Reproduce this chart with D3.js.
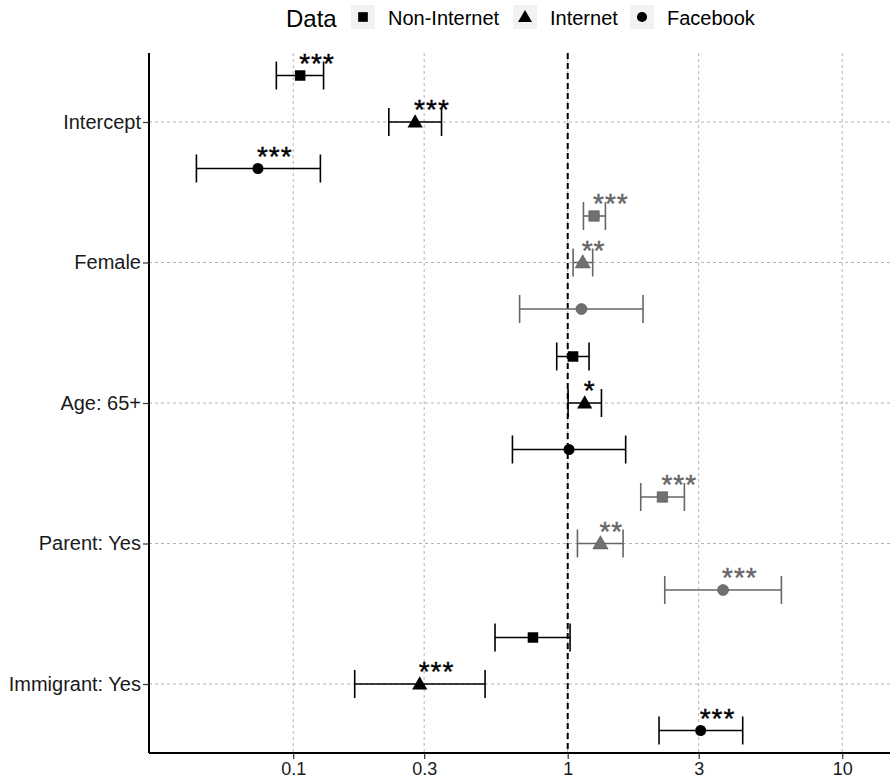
<!DOCTYPE html>
<html><head><meta charset="utf-8">
<script src="https://cdn.jsdelivr.net/npm/d3@7"></script>
<style>body{margin:0;background:#fff;} svg{display:block;font-family:Arial,"Liberation Sans",sans-serif;}</style>
</head><body>
<svg id="chart" width="890" height="781"></svg>
<script>
const categories = ["Intercept","Female","Age: 65+","Parent: Yes","Immigrant: Yes"];
const seriesNames = ["Non-Internet","Internet","Facebook"];
const greyRows = ["Female","Parent: Yes"];
// estimates [point, low, high] per category, one array per series
const nonInternetEst = [0.106, 1.247, 1.046, 2.213, 0.747];
const nonInternetLo  = [0.0868, 1.141, 0.912, 1.845, 0.5435];
const nonInternetHi  = [0.129, 1.372, 1.196, 2.661, 1.02];
const nonInternetSig = ["***","***","","***",""];
const internetEst = [0.278, 1.134, 1.153, 1.316, 0.289];
const internetLo  = [0.223, 1.046, 1.003, 1.085, 0.1675];
const internetHi  = [0.347, 1.233, 1.327, 1.591, 0.5];
const internetSig = ["***","**","*","**","***"];
const facebookEst = [0.0744, 1.122, 1.011, 3.68, 3.05];
const facebookLo  = [0.0444, 0.668, 0.629, 2.257, 2.151];
const facebookHi  = [0.1256, 1.881, 1.626, 6.004, 4.34];
const facebookSig = ["***","","","***","***"];
const xTicks = [0.1, 0.3, 1, 3, 10];
const xTickLabels = ["0.1","0.3","1","3","10"];

const seriesData = [
  {name:seriesNames[0], est:nonInternetEst, lo:nonInternetLo, hi:nonInternetHi, sig:nonInternetSig, sym:d3.symbolSquare, size:110, off:-1},
  {name:seriesNames[1], est:internetEst, lo:internetLo, hi:internetHi, sig:internetSig, sym:d3.symbolTriangle, size:100, off:0},
  {name:seriesNames[2], est:facebookEst, lo:facebookLo, hi:facebookHi, sig:facebookSig, sym:d3.symbolCircle, size:95, off:1}
];

const svg = d3.select("#chart");
const L = 149, R = 890, T = 53, B = 753;
const x = d3.scaleLog().domain([0.02983, 14.93]).range([L, R]);
const y = d3.scalePoint().domain(categories).range([122, 684]);
const off = 46.5;

const g = svg.append("g");
// grid
g.selectAll(".vg").data(xTicks).join("line")
  .attr("x1", d=>x(d)).attr("x2", d=>x(d)).attr("y1", T).attr("y2", B)
  .attr("stroke","#b3b3b3").attr("stroke-width",1).attr("stroke-dasharray","3,3");
g.selectAll(".hg").data(categories).join("line")
  .attr("x1", L).attr("x2", R).attr("y1", d=>y(d)).attr("y2", d=>y(d))
  .attr("stroke","#b3b3b3").attr("stroke-width",1).attr("stroke-dasharray","3,3");
// reference line
g.append("line").attr("x1",x(1)).attr("x2",x(1)).attr("y1",T).attr("y2",B)
  .attr("stroke","#000").attr("stroke-width",2).attr("stroke-dasharray","6,4");

// axes
const xAxis = d3.axisBottom(x).tickValues(xTicks).tickFormat((d,i)=>xTickLabels[i]).tickSize(6).tickSizeOuter(0);
const xg = svg.append("g").attr("transform",`translate(0,${B})`).call(xAxis);
xg.select(".domain").attr("stroke","#000").attr("stroke-width",2).attr("d",`M${L},0H${R}`);
xg.selectAll(".tick line").attr("stroke","#333").attr("stroke-width",1.2);
xg.selectAll(".tick text").attr("fill","#1a1a1a").attr("font-size","18px").attr("y",9).attr("dy","0.71em").attr("font-family","Arial, 'Liberation Sans', sans-serif");

const yAxis = d3.axisLeft(y).tickSize(6).tickSizeOuter(0);
const yg = svg.append("g").attr("transform",`translate(${L},0)`).call(yAxis);
yg.select(".domain").attr("stroke","#000").attr("stroke-width",2).attr("d",`M0,${T}V${B}`);
yg.selectAll(".tick line").attr("stroke","#333").attr("stroke-width",1.2);
yg.selectAll(".tick text").attr("fill","#1a1a1a").attr("font-size","20px").attr("x",-8).attr("font-family","Arial, 'Liberation Sans', sans-serif");

// marks
seriesData.forEach(s=>{
  categories.forEach((c,i)=>{
    const grey = greyRows.includes(c);
    const lineCol = grey ? "#666" : "#000";
    const fillCol = grey ? "#707070" : "#000";
    const yy = y(c) + s.off*off;
    const gg = svg.append("g");
    gg.append("line").attr("x1",x(s.lo[i])).attr("x2",x(s.hi[i])).attr("y1",yy).attr("y2",yy)
      .attr("stroke",lineCol).attr("stroke-width",1.6);
    [s.lo[i], s.hi[i]].forEach(v=>{
      gg.append("line").attr("x1",x(v)).attr("x2",x(v)).attr("y1",yy-14).attr("y2",yy+14)
        .attr("stroke",lineCol).attr("stroke-width",1.6);
    });
    gg.append("path").attr("d", d3.symbol().type(s.sym).size(s.size)())
      .attr("transform",`translate(${x(s.est[i])},${yy + (s.sym===d3.symbolTriangle?1:0)})`)
      .attr("fill",fillCol).attr("stroke", grey ? "#555" : "none").attr("stroke-width",0.6);
    if (s.sig[i]) {
      gg.append("text").attr("x", x(s.est[i]) - 1).attr("y", yy - 3)
        .attr("font-size","28px").attr("fill", grey ? "#666" : "#000")
        .attr("stroke", grey ? "#666" : "#000").attr("stroke-width",0.4)
        .attr("letter-spacing","1px")
        .text(s.sig[i]);
    }
  });
});

// legend
const lg = svg.append("g");
lg.append("text").attr("x",286).attr("y",27).attr("font-size","24px").attr("fill","#000").text("Data");
const legendX = [351, 513, 630];
seriesData.forEach((s,i)=>{
  const bx = legendX[i];
  lg.append("rect").attr("x",bx).attr("y",5).attr("width",24).attr("height",24).attr("fill","#f2f2f2");
  lg.append("path").attr("d", d3.symbol().type(s.sym).size(s.size*0.85)())
    .attr("transform",`translate(${bx+12},${17 + (s.sym===d3.symbolTriangle?1:0)})`).attr("fill","#000");
  lg.append("text").attr("x",bx+37).attr("y",25).attr("font-size","20px").attr("fill","#000").text(s.name);
});
</script>
</body></html>
